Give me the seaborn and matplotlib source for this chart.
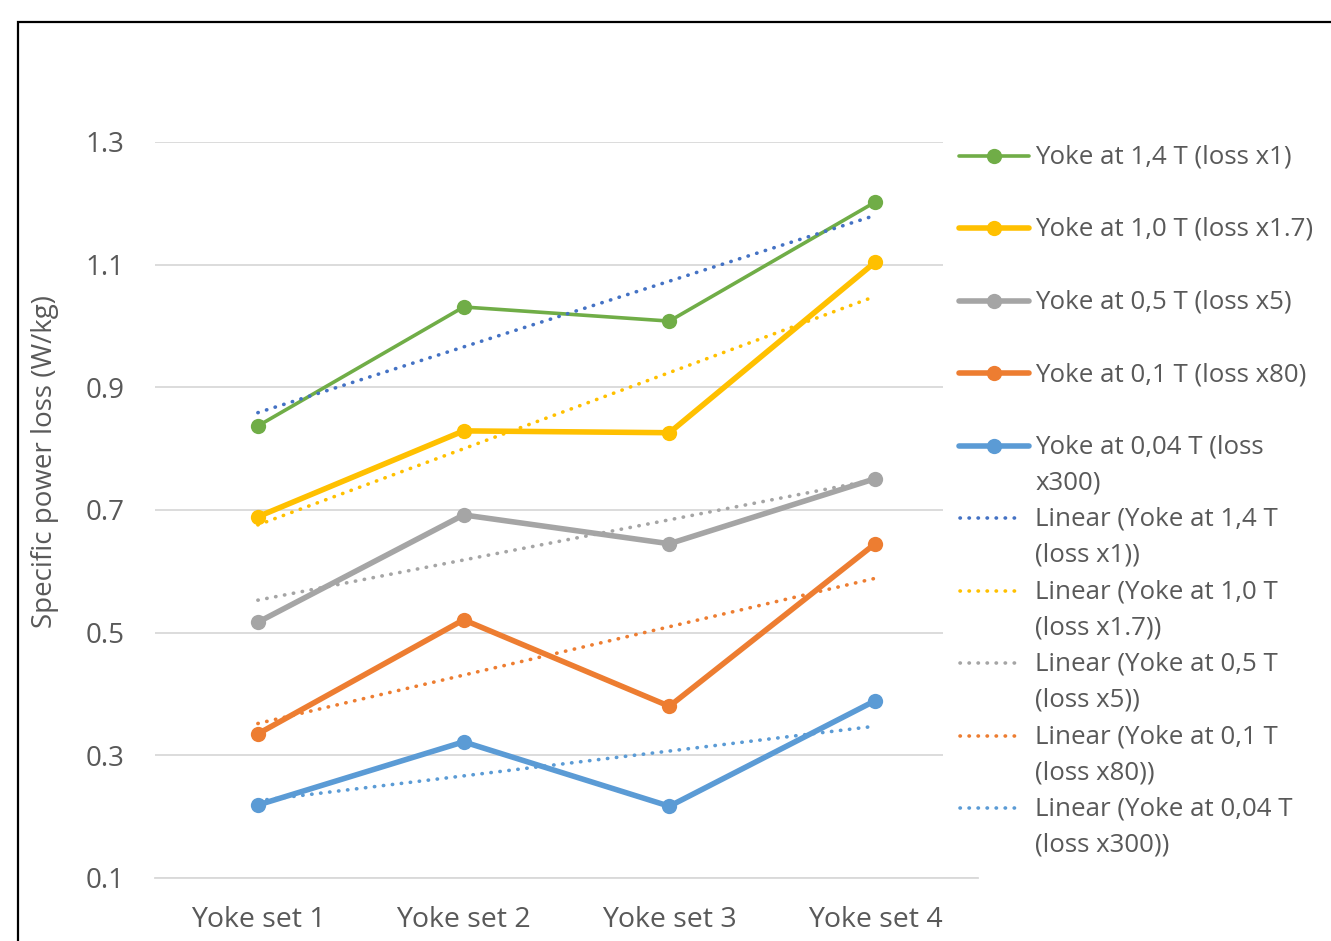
import numpy as np
import pandas as pd
import seaborn as sns
import matplotlib.pyplot as plt
from matplotlib.lines import Line2D
from matplotlib.patches import Rectangle

# values
categories = ['Yoke set 1', 'Yoke set 2', 'Yoke set 3', 'Yoke set 4']
yoke_14 = [0.837, 1.031, 1.008, 1.202]
yoke_10 = [0.689, 0.829, 0.826, 1.104]
yoke_05 = [0.517, 0.692, 0.645, 0.751]
yoke_01 = [0.335, 0.521, 0.380, 0.645]
yoke_004 = [0.219, 0.322, 0.217, 0.389]

series_names = ['Yoke at 1,4 T (loss x1)', 'Yoke at 1,0 T (loss x1.7)',
                'Yoke at 0,5 T (loss x5)', 'Yoke at 0,1 T (loss x80)',
                'Yoke at 0,04 T (loss x300)']
series_values = [yoke_14, yoke_10, yoke_05, yoke_01, yoke_004]
series_colors = ['#70AD47', '#FFC000', '#A5A5A5', '#ED7D31', '#5B9BD5']
trend_colors = ['#4472C4', '#FFC000', '#A5A5A5', '#ED7D31', '#5B9BD5']
series_widths = [2.6, 4.0, 4.0, 4.0, 4.0]

y_ticks = [0.1, 0.3, 0.5, 0.7, 0.9, 1.1, 1.3]

sns.set_theme(style='white')
plt.rcParams['font.family'] = ['Open Sans', 'DejaVu Sans']
TXT = '#595959'

W, H = 1331, 941
fig = plt.figure(figsize=(W / 100, H / 100), dpi=100)
ax = fig.add_axes([155 / W, 1 - 878 / H, (978 - 155) / W, (878 - 142) / H])

pos = np.arange(len(categories))
frames = []
for name, vals in zip(series_names, series_values):
  frames.append(pd.DataFrame({'pos': pos, 'value': vals, 'series': name}))
df = pd.concat(frames, ignore_index=True)

for name, color, lw in zip(series_names, series_colors, series_widths):
  sns.lineplot(data=df[df['series'] == name], x='pos', y='value', color=color,
               lw=lw, marker='o', markersize=11, markeredgewidth=0, ax=ax,
               zorder=3)

# Excel-style linear trendlines
dotted = (0, (0.1, 2.4))
for name, color in zip(series_names, trend_colors):
  sub = df[df['series'] == name]
  sns.regplot(data=sub, x='pos', y='value', scatter=False, ci=None,
              truncate=True, ax=ax,
              line_kws=dict(color=color, lw=2.6, ls=dotted,
                            dash_capstyle='round', zorder=4))

ax.set_xlim(-0.5, 3.5)
ax.set_ylim(0.1, 1.3)
ax.set_yticks(y_ticks)
ax.set_yticklabels([f'{t:.1f}' for t in y_ticks])
ax.set_xticks(pos)
ax.set_xticklabels(categories)
ax.grid(axis='y', color='#D9D9D9', lw=1.3)
ax.grid(axis='x', visible=False)
for s in ['top', 'right', 'left']:
  ax.spines[s].set_visible(False)
ax.spines['bottom'].set_color('#D9D9D9')
ax.spines['bottom'].set_linewidth(1.3)
ax.tick_params(axis='y', length=0, pad=22, labelsize=20, labelcolor=TXT)
ax.tick_params(axis='x', length=0, pad=20, labelsize=20.5, labelcolor=TXT)
ax.set_xlabel('')
ax.set_ylabel('Specific power loss (W/kg)', fontsize=20, color=TXT)
ax.yaxis.set_label_coords(-(155 - 59) / (978 - 155), (878 - 462) / (878 - 142))

# legend drawn in a pixel-based overlay
lg = fig.add_axes([943 / W, 1 - 865 / H, (W - 943) / W, (865 - 130) / H],
                  zorder=5)
lg.set_xlim(943, W)
lg.set_ylim(865, 130)
lg.axis('off')
lg.add_patch(Rectangle((943, 130), W - 943, 735, color='white', zorder=0))

legend_rows = [
  ('solid', 0, ['Yoke at 1,4 T (loss x1)'], 157),
  ('solid', 1, ['Yoke at 1,0 T (loss x1.7)'], 229.5),
  ('solid', 2, ['Yoke at 0,5 T (loss x5)'], 302),
  ('solid', 3, ['Yoke at 0,1 T (loss x80)'], 374.5),
  ('solid', 4, ['Yoke at 0,04 T (loss', 'x300)'], 447),
  ('dot', 0, ['Linear (Yoke at 1,4 T', '(loss x1))'], 519),
  ('dot', 1, ['Linear (Yoke at 1,0 T', '(loss x1.7))'], 592),
  ('dot', 2, ['Linear (Yoke at 0,5 T', '(loss x5))'], 664),
  ('dot', 3, ['Linear (Yoke at 0,1 T', '(loss x80))'], 737),
  ('dot', 4, ['Linear (Yoke at 0,04 T', '(loss x300))'], 809),
]
for kind, i, lines, y in legend_rows:
  if kind == 'solid':
    lg.add_line(Line2D([959, 1029], [y - 1, y - 1], color=series_colors[i],
                       lw=series_widths[i]))
    lg.add_line(Line2D([994], [y - 1], color=series_colors[i], marker='o',
                       markersize=11, markeredgewidth=0))
  else:
    lg.add_line(Line2D([960, 1022], [y - 1, y - 1], color=trend_colors[i],
                       lw=2.6, ls=dotted, dash_capstyle='round'))
  for k, line in enumerate(lines):
    lg.text(1035, y + 36 * k, line, fontsize=18.6, color=TXT,
            va='center', ha='left')

fig.patches.append(Rectangle((18 / W, -0.1), 2, 1 - 22 / H + 0.1,
                             transform=fig.transFigure, fill=False,
                             lw=1.6, ec='black'))

fig.savefig('out.png', dpi=100, facecolor='white')
